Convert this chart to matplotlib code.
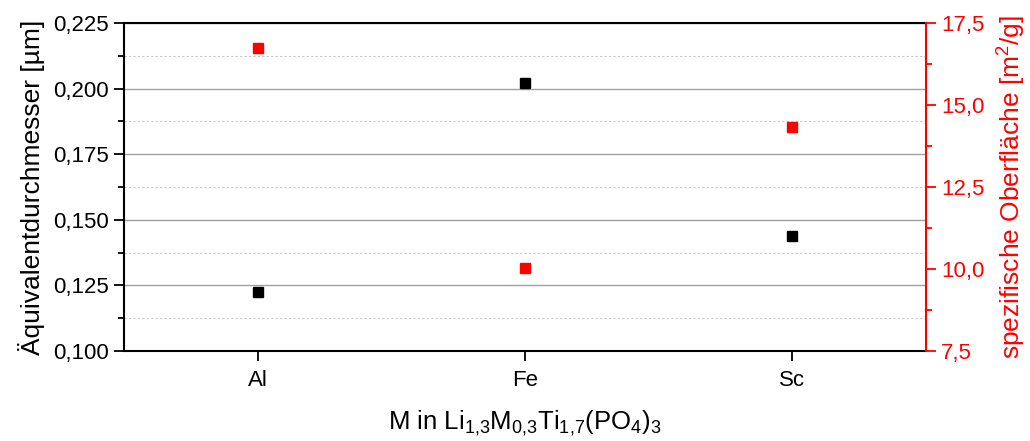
import matplotlib
matplotlib.use("Agg")
import matplotlib.pyplot as plt
from matplotlib.ticker import MultipleLocator, FuncFormatter

categories = ["Al", "Fe", "Sc"]
durchmesser = [0.1223, 0.2021, 0.1439]
oberflaeche = [16.74, 10.02, 14.33]

plt.rcParams['font.family'] = ['Liberation Sans', 'DejaVu Sans']
plt.rcParams['mathtext.fontset'] = 'custom'
plt.rcParams['mathtext.rm'] = 'Liberation Sans'
plt.rcParams['mathtext.it'] = 'Liberation Sans'

fig = plt.figure(figsize=(10.30, 4.41), dpi=100)
ax = fig.add_axes([124/1030, 1-351/441, (926-124)/1030, (351-23)/441])
x = list(range(len(categories)))

ax.set_xlim(-0.5, 2.5)
ax.set_ylim(0.100, 0.225)
ax.yaxis.set_major_locator(MultipleLocator(0.025))
ax.yaxis.set_minor_locator(MultipleLocator(0.0125))
ax.yaxis.set_major_formatter(FuncFormatter(lambda v, p: f"{v:.3f}".replace(".", ",")))
ax.set_xticks(x)
ax.set_xticklabels(categories)
ax.grid(True, which='major', axis='y', color='#a0a0a0', linewidth=1.0, linestyle='-')
ax.grid(True, which='minor', axis='y', color='#c8c8c8', linewidth=0.8, linestyle=(0, (2, 2)))
ax.set_axisbelow(True)
ax.tick_params(axis='both', which='major', direction='out', length=7, width=1.3, labelsize=16, colors='black', pad=4)
ax.tick_params(axis='x', which='major', pad=7)
ax.tick_params(axis='y', which='minor', direction='out', length=4, width=1.3)
ax.tick_params(axis='x', which='minor', bottom=False)
for s in ['left', 'bottom', 'top']:
    ax.spines[s].set_linewidth(1.5)
ax.spines['right'].set_visible(False)

ax.plot(x, durchmesser, linestyle='none', marker='s', markersize=7, color='black', zorder=3)
ax.set_ylabel("Äquivalentdurchmesser [µm]", fontsize=19, labelpad=6)
ax.set_xlabel(r"M in Li$_{1{,}3}$M$_{0{,}3}$Ti$_{1{,}7}$(PO$_{4}$)$_{3}$", fontsize=18.5, labelpad=12)

ax2 = ax.twinx()
ax2.set_ylim(7.5, 17.5)
ax2.yaxis.set_major_locator(MultipleLocator(2.5))
ax2.yaxis.set_minor_locator(MultipleLocator(1.25))
ax2.yaxis.set_major_formatter(FuncFormatter(lambda v, p: f"{v:.1f}".replace(".", ",")))
ax2.tick_params(axis='y', which='major', direction='out', length=7, width=1.3, labelsize=16, colors='red', pad=4)
ax2.tick_params(axis='y', which='minor', direction='out', length=4, width=1.3, colors='red')
for s in ['left', 'bottom', 'top']:
    ax2.spines[s].set_visible(False)
ax2.spines['right'].set_color('red')
ax2.spines['right'].set_linewidth(1.5)
ax2.plot(x, oberflaeche, linestyle='none', marker='s', markersize=7, color='red', zorder=3)
ax2.set_ylabel(r"spezifische Oberfläche [m$^{2}$/g]", fontsize=19, color='red', labelpad=8)

fig.savefig("out.png", dpi=100)
